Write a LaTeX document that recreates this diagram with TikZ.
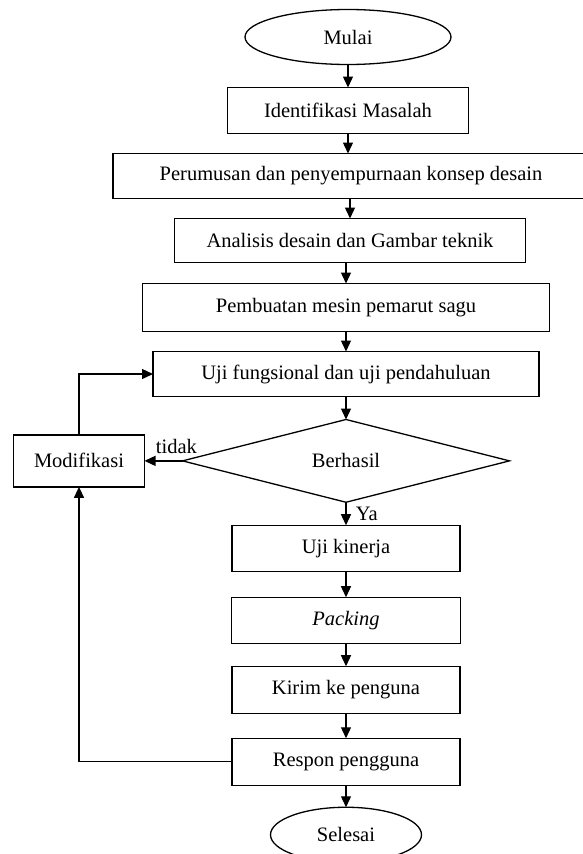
\documentclass[tikz,border=0pt]{standalone}
\usepackage{fontspec}
\setmainfont{Liberation Serif}
\usepackage{tikz}
\usetikzlibrary{shapes.geometric, arrows.meta, positioning}
\tikzstyle{arrow}=[-{Triangle[length=11pt,width=10pt]}, line width=1.3pt, color=black]
\tikzstyle{process}=[draw, line width=1.3pt, minimum height=46pt, inner sep=2pt, outer sep=0pt]
\tikzstyle{startstop}=[draw, ellipse, line width=1.3pt, minimum height=55pt, inner sep=0pt,
                       outer sep=0pt]
\tikzstyle{decision}=[draw, diamond, line width=1.3pt, minimum width=327pt,
                      minimum height=79pt, inner sep=0pt, outer sep=0pt]

\begin{document}
\begin{tikzpicture}[font=\fontsize{20.5}{24}\selectfont, node distance=21pt]
  \useasboundingbox (0,0) rectangle (583pt,-854pt);
  \clip (0,0) rectangle (583pt,-854pt);
  % main column
  \node[startstop, minimum width=206pt] (mulai) at (348pt,-37pt) {Mulai};
  \node[process, minimum width=241pt, below=23pt of mulai] (identifikasi) {Identifikasi Masalah};
  \node[process, minimum width=476pt, minimum height=45pt, below=20pt of identifikasi, xshift=3pt]
    (perumusan) {Perumusan dan penyempurnaan konsep desain};
  \node[process, minimum width=351pt, minimum height=44pt, below=20pt of perumusan, xshift=-1pt]
    (analisis) {Analisis desain dan Gambar teknik};
  \node[process, minimum width=407pt, minimum height=48pt, below=21pt of analisis, xshift=-4pt]
    (pembuatan) {Pembuatan mesin pemarut sagu};
  \node[process, minimum width=386pt, minimum height=45pt, below=20pt of pembuatan]
    (ujifungsi) {Uji fungsional dan uji pendahuluan};
  \node[decision, below=23pt of ujifungsi] (berhasil) {Berhasil};
  \node[process, minimum width=228pt, below=23pt of berhasil] (kinerja) {Uji kinerja};
  \node[process, minimum width=229pt, below=26pt of kinerja] (packing) {\textit{Packing}};
  \node[process, minimum width=228pt, minimum height=47pt, below=23pt of packing] (kirim) {Kirim ke penguna};
  \node[process, minimum width=228pt, minimum height=47pt, below=25pt of kirim] (respon) {Respon pengguna};
  \node[startstop, minimum width=151pt, below=22pt of respon] (selesai) {Selesai};
  % side branch
  \node[process, minimum width=131pt, minimum height=52pt, left=38pt of berhasil] (modifikasi) {Modifikasi};

  \draw[arrow] (mulai) -- (identifikasi);
  \draw[arrow] (identifikasi) -- (identifikasi |- perumusan.north);
  \draw[arrow] (perumusan.south -| analisis) -- (analisis);
  \draw[arrow] (analisis.south -| pembuatan) -- (pembuatan);
  \draw[arrow] (pembuatan) -- (ujifungsi);
  \draw[arrow] (ujifungsi) -- (berhasil);
  \draw[arrow] (berhasil) -- node[right=6pt] {Ya} (kinerja);
  \draw[arrow] (kinerja) -- (packing);
  \draw[arrow] (packing) -- (kirim);
  \draw[arrow] (kirim) -- (respon);
  \draw[arrow] (respon) -- (selesai);
  \draw[arrow] (berhasil.west) -- node[above=3pt, pos=0.16] {tidak} (modifikasi.east);
  \draw[arrow] (modifikasi.north) |- (ujifungsi.west);
  \draw[arrow] (respon.west) -| (modifikasi.south);
\end{tikzpicture}
\end{document}
